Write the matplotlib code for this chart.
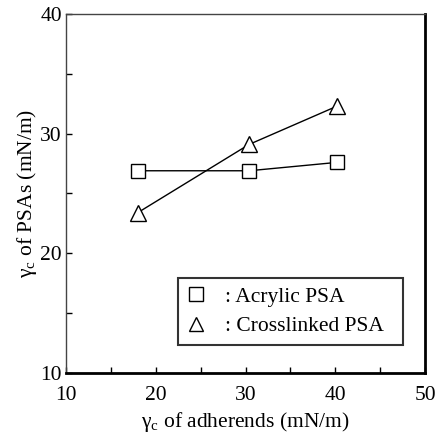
import numpy as np
import matplotlib
matplotlib.use('Agg')
import matplotlib.pyplot as plt
from matplotlib.ticker import MultipleLocator

plt.rcParams['font.family'] = ['Liberation Serif', 'DejaVu Serif']
plt.rcParams['mathtext.fontset'] = 'custom'
plt.rcParams['mathtext.rm'] = 'Liberation Serif'

# 被着体与压敏胶的临界表面张力
adherend_gc = [18.0, 30.4, 40.2]
acrylic_gc = [26.9, 26.9, 27.6]
crosslinked_gc = [23.4, 29.1, 32.3]

x_ticks = [10, 20, 30, 40, 50]
y_ticks = [10, 20, 30, 40]

FS = 15.5

fig = plt.figure(figsize=(4.4, 4.36), dpi=100)
ax = fig.add_axes([66/440, 1 - 373/436, 359/440, 359/436])

ax.plot(adherend_gc, acrylic_gc, color='black', lw=1.0, marker='s', ms=10,
        mfc='white', mec='black', mew=1.0, label=': Acrylic PSA')
ax.plot(adherend_gc, crosslinked_gc, color='black', lw=1.0, marker='^', ms=11,
        mfc='white', mec='black', mew=1.0, label=': Crosslinked PSA')

ax.set_xlim(10, 50)
ax.set_ylim(10, 40)
ax.set_xticks(x_ticks)
ax.set_yticks(y_ticks)
ax.xaxis.set_minor_locator(MultipleLocator(5))
ax.yaxis.set_minor_locator(MultipleLocator(5))
ax.tick_params(which='both', direction='in', length=4, width=1, labelsize=FS,
               top=False, right=False)
ax.tick_params(axis='x', pad=9)
ax.tick_params(axis='y', pad=3)

for side in ['top', 'left']:
    ax.spines[side].set_linewidth(1.0)
    ax.spines[side].set_color('#444444')
for side in ['right', 'bottom']:
    ax.spines[side].set_linewidth(2.0)

ax.set_xlabel(r'γ$_\mathregular{c}$ of adherends (mN/m)', fontsize=FS, labelpad=4)
ax.set_ylabel(r'γ$_\mathregular{c}$ of PSAs (mN/m)', fontsize=FS, labelpad=1)

leg = ax.legend(loc='lower left', bbox_to_anchor=(0.312, 0.078, 0.627, 0.181),
                mode='expand', fontsize=FS, frameon=True, fancybox=False,
                numpoints=1, handlelength=0.9, handletextpad=0.9,
                borderpad=0.4, labelspacing=0.45, borderaxespad=0)
for h in leg.legend_handles:
    h.set_linestyle('none')
    h.set_markersize(10)
leg.get_frame().set_edgecolor('black')
leg.get_frame().set_linewidth(1.5)

fig.savefig('out.png', dpi=100)
